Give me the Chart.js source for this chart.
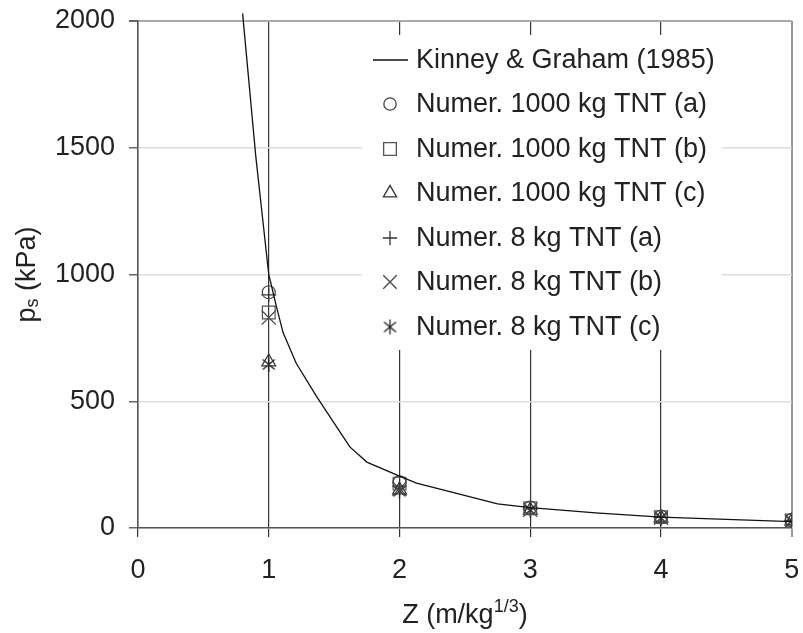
<!DOCTYPE html>
<html>
<head>
<meta charset="utf-8">
<script src="https://cdn.jsdelivr.net/npm/chart.js@4.4.0/dist/chart.umd.min.js"></script>
<style>
  body { margin: 0; background: #fff; }
  canvas { display: block; }
</style>
</head>
<body>
<canvas id="myChartBlast" width="803" height="633"></canvas>
<script>
// Kinney & Graham curve
const curveZ = [0.80, 0.90, 1.00, 1.06, 1.11, 1.21, 1.37, 1.62, 1.75, 2.00, 2.13, 2.75, 3.00, 3.50, 4.00, 5.00];
const curveP = [2030, 1470, 1000, 870, 770, 650, 515, 320, 260, 205, 177, 95, 80, 60, 43, 25];

// numerical results at Z = 1..5
const numZ = [1, 2, 3, 4, 5];
const num1000a = [930, 180, 80, 45, 32];
const num1000b = [850, 175, 78, 43, 30];
const num1000c = [655, 150, 70, 40, 28];
const num8a = [920, 165, 75, 42, 30];
const num8b = [830, 155, 72, 40, 28];
const num8c = [645, 145, 70, 38, 27];

const xTicks = [0, 1, 2, 3, 4, 5];
const yTicks = [0, 500, 1000, 1500, 2000];

const FONT = '"Liberation Sans", Arial, sans-serif';
const INK = "#222";

// excel style star: x with a vertical bar
const starMark = document.createElement("canvas");
starMark.width = 17;
starMark.height = 17;
{
  const c = starMark.getContext("2d");
  c.strokeStyle = INK;
  c.lineWidth = 1.3;
  c.beginPath();
  c.moveTo(2.5, 3.5); c.lineTo(14.5, 13.5);
  c.moveTo(14.5, 3.5); c.lineTo(2.5, 13.5);
  c.moveTo(8.5, 1); c.lineTo(8.5, 16);
  c.stroke();
}

const pts = (ys) => numZ.map((z, i) => ({ x: z, y: ys[i] }));

const series = [
  { label: "Numer. 1000 kg TNT (a)", data: num1000a, style: "circle", radius: 6.5, color: "#444" },
  { label: "Numer. 1000 kg TNT (b)", data: num1000b, style: "rect", radius: 9, color: "#555" },
  { label: "Numer. 1000 kg TNT (c)", data: num1000c, style: "triangle", radius: 8, color: "#333" },
  { label: "Numer. 8 kg TNT (a)", data: num8a, style: "cross", radius: 7.5, color: "#333" },
  { label: "Numer. 8 kg TNT (b)", data: num8b, style: "crossRot", radius: 10, color: "#444" },
  { label: "Numer. 8 kg TNT (c)", data: num8c, style: starMark, radius: 8, color: INK },
];

const datasets = [
  {
    label: "Kinney & Graham (1985)",
    data: curveZ.map((z, i) => ({ x: z, y: curveP[i] })),
    showLine: true,
    borderColor: "#111",
    borderWidth: 1.3,
    pointRadius: 0,
    tension: 0,
    clip: false,
  },
  ...series.map((s) => ({
    label: s.label,
    data: pts(s.data),
    showLine: false,
    pointStyle: s.style,
    pointRadius: s.radius,
    pointBorderColor: s.color,
    pointBackgroundColor: "rgba(0,0,0,0)",
    pointBorderWidth: 1.2,
  })),
];

// white legend box inside the plot, hides the grid behind it
const legendBox = {
  id: "legendBox",
  beforeDatasetsDraw(chart) {
    const ctx = chart.ctx;
    ctx.save();
    ctx.fillStyle = "#fff";
    ctx.fillRect(362, 35, 360, 315);
    const rowY = [60, 104, 149, 193, 238, 282, 327];
    ctx.font = "27px " + FONT;
    ctx.fillStyle = INK;
    ctx.textBaseline = "middle";
    ctx.textAlign = "left";
    // line sample
    ctx.strokeStyle = "#111";
    ctx.lineWidth = 1.3;
    ctx.beginPath();
    ctx.moveTo(373, rowY[0]);
    ctx.lineTo(408, rowY[0]);
    ctx.stroke();
    ctx.fillText("Kinney & Graham (1985)", 416, rowY[0] + 1);
    series.forEach((s, i) => {
      ctx.strokeStyle = s.color;
      ctx.fillStyle = "rgba(0,0,0,0)";
      Chart.helpers.drawPoint(ctx, {
        pointStyle: s.style,
        radius: s.style === "rect" ? 9 : s.radius * 0.95,
        borderWidth: 1.1,
        rotation: 0,
      }, 390, rowY[i + 1]);
      ctx.fillStyle = INK;
      ctx.fillText(s.label, 416, rowY[i + 1] + 1);
    });
    ctx.restore();
  },
};

// axis titles with sub / superscript
const axisTitles = {
  id: "axisTitles",
  afterDraw(chart) {
    const ctx = chart.ctx;
    const a = chart.chartArea;
    ctx.save();
    ctx.fillStyle = INK;
    ctx.textBaseline = "alphabetic";
    ctx.textAlign = "left";

    // y title: p_s (kPa)
    ctx.translate(35, (a.top + a.bottom) / 2);
    ctx.rotate(-Math.PI / 2);
    const big = "27px " + FONT;
    const small = "18px " + FONT;
    ctx.font = big;
    const wP = ctx.measureText("p").width;
    const wRest = ctx.measureText(" (kPa)").width;
    ctx.font = small;
    const wS = ctx.measureText("s").width;
    let x = -(wP + wS + wRest) / 2;
    ctx.font = big;
    ctx.fillText("p", x, 0);
    x += wP;
    ctx.font = small;
    ctx.fillText("s", x, 3);
    x += wS;
    ctx.font = big;
    ctx.fillText(" (kPa)", x, 0);
    ctx.setTransform(1, 0, 0, 1, 0, 0);

    // x title: Z (m/kg^1/3)
    ctx.font = big;
    const w1 = ctx.measureText("Z (m/kg").width;
    const w3 = ctx.measureText(")").width;
    ctx.font = small;
    const w2 = ctx.measureText("1/3").width;
    let xx = (a.left + a.right) / 2 - (w1 + w2 + w3) / 2;
    const base = 623;
    ctx.font = big;
    ctx.fillText("Z (m/kg", xx, base);
    xx += w1;
    ctx.font = small;
    ctx.fillText("1/3", xx, base - 11);
    xx += w2;
    ctx.font = big;
    ctx.fillText(")", xx, base);
    ctx.restore();
  },
};

const myChartBlast = new Chart(document.getElementById("myChartBlast"), {
  type: "scatter",
  data: { datasets },
  options: {
    responsive: false,
    animation: false,
    layout: { padding: { top: 21, right: 10, left: 0, bottom: 0 } },
    plugins: {
      legend: { display: false },
      tooltip: { enabled: false },
    },
    scales: {
      x: {
        type: "linear",
        min: xTicks[0],
        max: xTicks[xTicks.length - 1],
        afterBuildTicks: (scale) => { scale.ticks = xTicks.map((v) => ({ value: v })); },
        afterFit: (scale) => {
          scale.height = 105;
          scale.paddingLeft = 0;
          scale.paddingRight = 0;
        },
        ticks: {
          color: INK,
          padding: 17,
          font: { family: FONT, size: 27 },
          callback: (v) => String(v),
        },
        grid: {
          color: (c) => (c.tick && c.tick.value === 5 ? "#999" : "#333"),
          lineWidth: (c) => (c.tick && c.tick.value === 5 ? 2 : 1.2),
          tickLength: 9,
        },
        border: { color: "#555", width: 1.5 },
      },
      y: {
        min: yTicks[0],
        max: yTicks[yTicks.length - 1],
        afterBuildTicks: (scale) => { scale.ticks = yTicks.map((v) => ({ value: v })); },
        afterFit: (scale) => {
          scale.width = 138;
          scale.paddingTop = 0;
          scale.paddingBottom = 0;
        },
        ticks: {
          color: INK,
          padding: 14,
          font: { family: FONT, size: 27 },
          callback: (v) => String(v),
        },
        grid: {
          color: (c) => (c.tick && c.tick.value === 2000 ? "#aaa" : "#ddd"),
          lineWidth: (c) => (c.tick && c.tick.value === 2000 ? 2 : 1.5),
          tickColor: "#666",
          tickLength: 9,
        },
        border: { color: "#555", width: 1.5 },
      },
    },
  },
  plugins: [legendBox, axisTitles],
});
</script>
</body>
</html>
